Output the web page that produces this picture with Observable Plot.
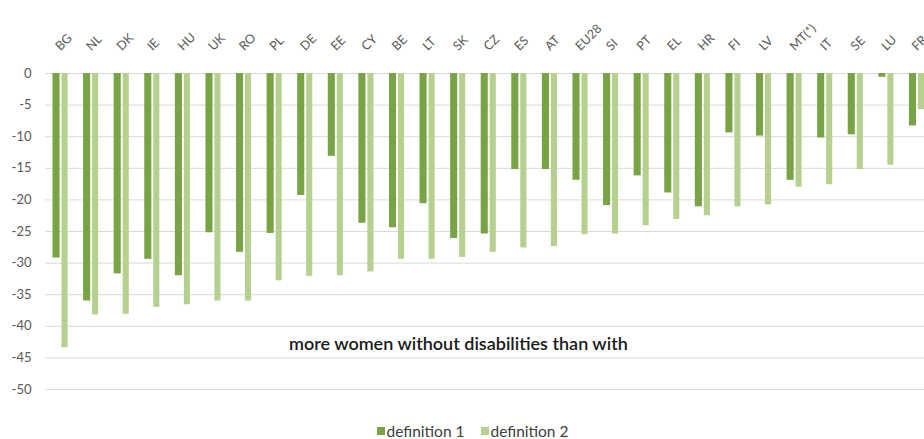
<!DOCTYPE html>
<html>
<head>
<meta charset="utf-8">
<script src="https://cdn.jsdelivr.net/npm/d3@7"></script>
<script src="https://cdn.jsdelivr.net/npm/@observablehq/plot@0.6"></script>
<style>
  html, body { margin: 0; padding: 0; background: #fff; overflow: hidden; }
  #chart { width: 924px; overflow: hidden; }
  #legend { width: 924px; margin-top: 9px; }
  #legend .lg-swatches { justify-content: center; font-size: 15.5px; color: #404040;
    font-family: Lato, "DejaVu Sans", sans-serif; padding-left: 37px; }
  #legend .lg-swatch { margin-right: 16px; }
  #legend .lg-swatch svg { margin-right: 2px; }
</style>
</head>
<body>
<div id="chart"></div>
<div id="legend"></div>
<script>
// Gap between women with and without disabilities, by country
const countries = ["BG","NL","DK","IE","HU","UK","RO","PL","DE","EE","CY","BE","LT","SK",
  "CZ","ES","AT","EU28","SI","PT","EL","HR","FI","LV","MT(*)","IT","SE","LU","FR"];
const definition1 = [-29.2,-36.0,-31.7,-29.4,-32.0,-25.2,-28.3,-25.3,-19.3,-13.1,-23.7,-24.4,-20.6,-26.1,
  -25.4,-15.2,-15.2,-16.9,-20.9,-16.2,-18.9,-21.1,-9.4,-9.9,-16.9,-10.2,-9.7,-0.6,-8.3];
const definition2 = [-43.4,-38.2,-38.1,-37.0,-36.6,-36.0,-36.0,-32.8,-32.1,-32.0,-31.4,-29.4,-29.4,-29.1,
  -28.3,-27.6,-27.4,-25.5,-25.4,-24.1,-23.1,-22.5,-21.1,-20.8,-18.0,-17.6,-15.2,-14.5,-5.7];
const yTicks = [0,-5,-10,-15,-20,-25,-30,-35,-40,-45,-50];
const seriesNames = ["definition 1","definition 2"];
const seriesColors = ["#78a446","#b5d08f"];
const note = "more women without disabilities than with";
const noteAt = {country: "SK", value: -42.9};

const font = 'Lato, "DejaVu Sans", sans-serif';
const rows = countries.map((c, i) => ({country: c, d1: definition1[i], d2: definition2[i]}));

const chart = Plot.plot({
  width: 932,
  height: 405,
  marginLeft: 45,
  marginRight: 0,
  marginTop: 73,
  marginBottom: 16,
  style: {fontFamily: font, background: "#fff", maxWidth: "none"},
  x: {domain: countries, padding: 0, round: false, axis: null},
  y: {domain: [-50, 0], ticks: yTicks},
  marks: [
    Plot.gridY(yTicks, {stroke: "#d9d9d9", strokeOpacity: 1}),
    Plot.axisY(yTicks, {tickSize: 0, tickPadding: 14, fontSize: 13, fill: "#595959",
      tickFormat: d => `${d}`}),
    Plot.barY(rows, {x: "country", y: "d1", fill: seriesColors[0], insetLeft: 7.5, insetRight: 16}),
    Plot.barY(rows, {x: "country", y: "d2", fill: seriesColors[1], insetLeft: 16.5, insetRight: 8}),
    // country names above the frame, slanted
    Plot.text(countries, {x: d => d, y: () => 0, text: d => d, dx: -3, dy: -25,
      rotate: -45, textAnchor: "start", fontSize: 12.5, fill: "#595959"}),
    Plot.text([noteAt], {x: "country", y: "value", text: () => note, fontSize: 18,
      fill: "#1a1a1a", fontWeight: 600})
  ]
});
document.getElementById("chart").appendChild(chart);

const legend = Plot.legend({
  color: {domain: seriesNames, range: seriesColors},
  legend: "swatches",
  swatchSize: 8,
  className: "lg"
});
document.getElementById("legend").appendChild(legend);
</script>
</body>
</html>
